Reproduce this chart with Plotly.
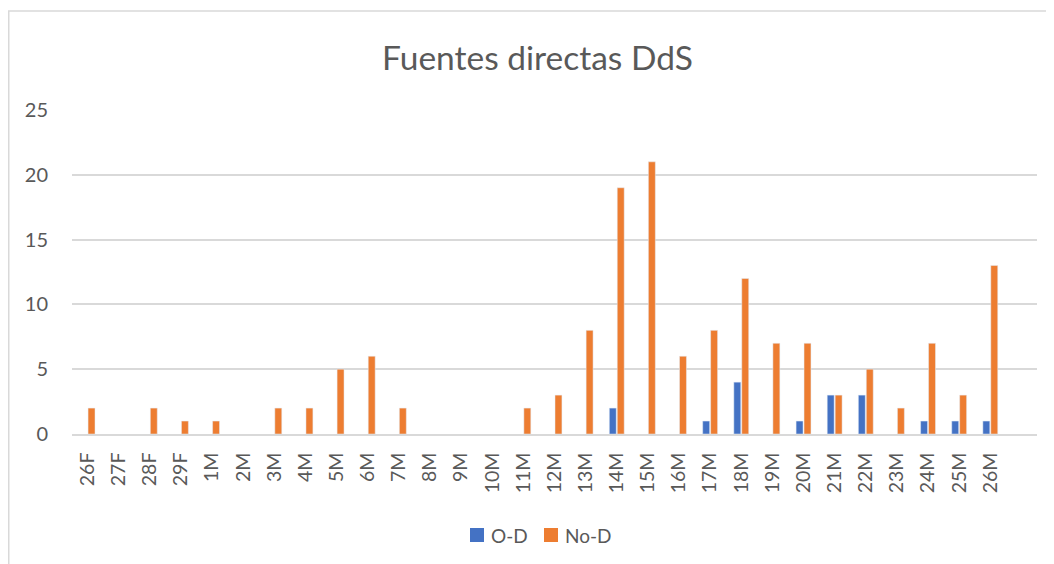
import plotly.graph_objects as go

categories = ["26F", "27F", "28F", "29F", "1M", "2M", "3M", "4M", "5M", "6M",
              "7M", "8M", "9M", "10M", "11M", "12M", "13M", "14M", "15M", "16M",
              "17M", "18M", "19M", "20M", "21M", "22M", "23M", "24M", "25M", "26M"]
od_values = [0, 0, 0, 0, 0, 0, 0, 0, 0, 0,
             0, 0, 0, 0, 0, 0, 0, 2, 0, 0,
             1, 4, 0, 1, 3, 3, 0, 1, 1, 1]
nod_values = [2, 0, 2, 1, 1, 0, 2, 2, 5, 6,
              2, 0, 0, 0, 2, 3, 8, 19, 21, 6,
              8, 12, 7, 7, 3, 5, 2, 7, 3, 13]
series_names = ["O-D", "No-D"]
y_ticks = [0, 5, 10, 15, 20, 25]

# the page body has an 8px margin, so the figure is drawn 8px in from the window edge
OFF = 8
W, H = 1054 - OFF, 564 - OFF
L, R, T, B = 72 - OFF, 17, 110 - OFF, 130
pw, ph = W - L - R, H - T - B

def px_x(x):  # window pixel -> paper x
    return (x - OFF - L) / pw

def px_y(y):  # window pixel -> paper y
    return (H - B - (y - OFF)) / ph

FONT = "Lato, 'Open Sans', sans-serif"
GREY = "#595959"
BLUE = "#4472C4"
ORANGE = "#ED7D31"
colors = [BLUE, ORANGE]

fig = go.Figure()
for name, vals, col in zip(series_names, [od_values, nod_values], colors):
    fig.add_trace(go.Bar(name=name, x=categories, y=[v if v else None for v in vals],
                         marker=dict(color=col), showlegend=False))

fig.update_layout(
    width=W, height=H,
    margin=dict(l=L, r=R, t=T, b=B, autoexpand=False),
    paper_bgcolor="white", plot_bgcolor="white",
    barmode="group", bargap=0.49, bargroupgap=0.125,
    title=dict(text="Fuentes directas DdS", x=(537.5 - OFF) / W, xanchor="center",
               y=1 - (58 - OFF) / H, yanchor="middle",
               font=dict(family=FONT, size=33.5, color=GREY)),
    font=dict(family=FONT, color=GREY),
    showlegend=False,
    xaxis=dict(type="category", range=[-0.5, 30.5], tickangle=-90,
               tickfont=dict(family=FONT, size=19.5, color=GREY), ticklabelstandoff=9,
               showgrid=False, showline=True, linecolor="#d9d9d9", linewidth=1.5,
               ticks="", ticklen=0, fixedrange=True, automargin=False),
    yaxis=dict(range=[0, 25], tickvals=y_ticks, showgrid=True, gridcolor="#d9d9d9",
               gridwidth=1.5, zeroline=False, showline=False, ticks="",
               tickfont=dict(family=FONT, size=20, color=GREY), ticklabelstandoff=23,
               fixedrange=True, automargin=False),
)

# outer chart border
fig.add_shape(type="rect", xref="paper", yref="paper",
              x0=px_x(8.75), x1=px_x(1080), y0=px_y(600), y1=px_y(11),
              line=dict(color="#d9d9d9", width=1.5), fillcolor="rgba(0,0,0,0)", layer="below")

# legend (square swatch + label)
legend_sq_x = [470, 544]
legend_cy = 535
for name, col, sx in zip(series_names, colors, legend_sq_x):
    fig.add_shape(type="rect", xref="paper", yref="paper",
                  x0=px_x(sx), x1=px_x(sx + 14), y0=px_y(legend_cy + 7), y1=px_y(legend_cy - 7),
                  line=dict(width=0), fillcolor=col)
    fig.add_annotation(text=name, xref="paper", yref="paper", x=px_x(sx + 19), y=px_y(legend_cy),
                       xanchor="left", yanchor="middle", showarrow=False,
                       font=dict(family=FONT, size=19, color=GREY))

fig.write_html("out.html")
